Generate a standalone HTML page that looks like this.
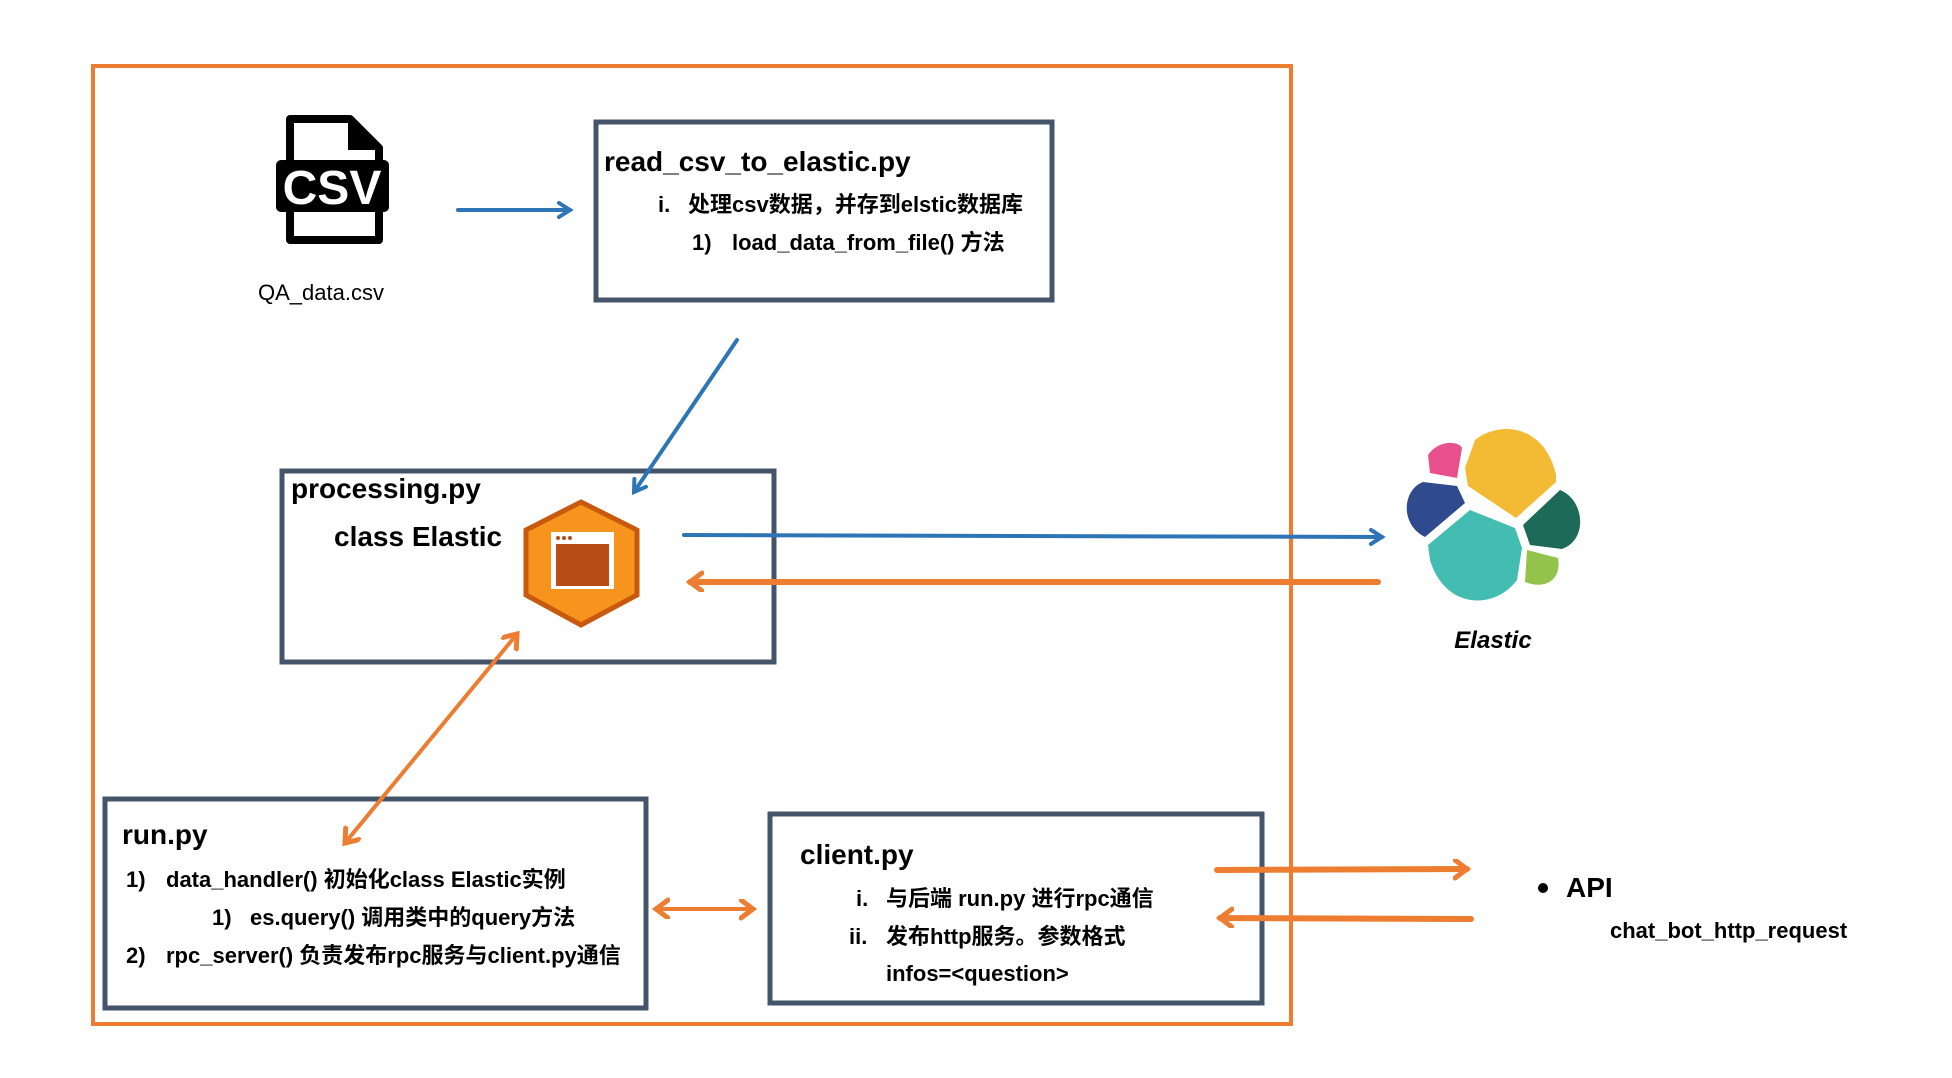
<!DOCTYPE html>
<html><head><meta charset="utf-8"><style>
html,body{margin:0;padding:0;background:#fff;}
svg{display:block;}
text{font-family:"Liberation Sans","Noto Sans CJK SC",sans-serif;font-weight:bold;fill:#000;}
</style></head><body>
<svg width="1952" height="1078" viewBox="0 0 1952 1078" xmlns="http://www.w3.org/2000/svg">
<defs>
<marker id="ao" markerWidth="30" markerHeight="30" refX="14" refY="10" orient="auto-start-reverse" markerUnits="userSpaceOnUse"><path d="M2,1 L14,10 L2,19" fill="none" stroke="#ed7d31" stroke-width="5" stroke-linecap="round"/></marker>
<marker id="ab2" markerWidth="30" markerHeight="30" refX="14" refY="10" orient="auto" markerUnits="userSpaceOnUse"><path d="M3,3 L14,10 L3,17" fill="none" stroke="#2e75b6" stroke-width="4" stroke-linecap="round"/></marker>
</defs>
<rect x="93" y="66" width="1198" height="958" fill="none" stroke="#ed7d31" stroke-width="4"/>
<g fill="none" stroke="#44546a" stroke-width="5">
<rect x="596" y="122" width="456" height="178"/>
<rect x="282" y="471" width="492" height="191"/>
<rect x="105" y="799" width="541" height="209"/>
<rect x="770" y="814" width="492" height="189"/>
</g>
<path d="M290,119 L350,119 L379,148 L379,240 L290,240 Z" fill="none" stroke="#000" stroke-width="8" stroke-linejoin="round"/>
<path d="M348,119 L348,150 L379,150 Z" fill="#000"/>
<rect x="276" y="160" width="113" height="52" rx="5" fill="#000"/>
<text x="332" y="204" text-anchor="middle" font-size="48" style="fill:#fff">CSV</text>
<text x="321" y="300" text-anchor="middle" font-size="22" style="font-weight:normal">QA_data.csv</text>
<polygon points="581,502 637,530 637,595 581,625 526,595 526,530" fill="#f7941d" stroke="#c9590e" stroke-width="5"/>
<rect x="551" y="532" width="63" height="57" fill="#fff"/>
<rect x="556" y="544" width="53" height="42" fill="#b84c17"/>
<circle cx="558" cy="538" r="2" fill="#b84c17"/><circle cx="564" cy="538" r="2" fill="#b84c17"/><circle cx="570" cy="538" r="2" fill="#b84c17"/>
<g transform="translate(1380,400)">
<path d="M95,40 C120,20 165,25 176,75 L176,82 L136,118 L88,86 L85,68 Z" fill="#f3bb33"/>
<path d="M48,55 C60,38 80,42 82,48 L77,78 L50,73 Z" fill="#e8508e"/>
<path d="M43,82 L77,86 L85,103 L45,137 C20,125 22,90 43,82 Z" fill="#304a8e"/>
<path d="M90,110 L135,128 L142,148 L137,180 C115,210 65,210 50,160 L48,145 Z" fill="#43bdb2"/>
<path d="M143,125 L180,90 C205,100 208,140 182,149 L150,145 Z" fill="#1c6a57"/>
<path d="M147,150 L178,158 C182,180 165,190 145,182 Z" fill="#94c34b"/>
</g>
<text x="1493" y="648" text-anchor="middle" font-size="24" font-style="italic">Elastic</text>
<g stroke-width="4" fill="none" stroke-linecap="round">
<line x1="458" y1="210" x2="570" y2="210" stroke="#2e75b6" marker-end="url(#ab2)"/>
<line x1="737" y1="340" x2="634" y2="492" stroke="#2e75b6" marker-end="url(#ab2)"/>
<line x1="684" y1="535" x2="1382" y2="537" stroke="#2e75b6" marker-end="url(#ab2)"/>
<line x1="1378" y1="582" x2="690" y2="582" stroke="#ed7d31" stroke-width="6" marker-end="url(#ao)"/>
<line x1="517" y1="634" x2="345" y2="843" stroke="#ed7d31" marker-start="url(#ao)" marker-end="url(#ao)"/>
<line x1="656" y1="909" x2="753" y2="909" stroke="#ed7d31" marker-start="url(#ao)" marker-end="url(#ao)"/>
<line x1="1217" y1="870" x2="1467" y2="869" stroke="#ed7d31" stroke-width="6" marker-end="url(#ao)"/>
<line x1="1471" y1="919" x2="1220" y2="918" stroke="#ed7d31" stroke-width="6" marker-end="url(#ao)"/>
</g>
<text x="604" y="171" font-size="28">read_csv_to_elastic.py</text>
<text x="658" y="212" font-size="22">i.</text>
<text x="688" y="212" font-size="22">处理csv数据，并存到elstic数据库</text>
<text x="692" y="250" font-size="22">1)</text>
<text x="732" y="250" font-size="22">load_data_from_file() 方法</text>
<text x="291" y="498" font-size="28">processing.py</text>
<text x="334" y="546" font-size="28">class Elastic</text>
<text x="122" y="844" font-size="28">run.py</text>
<text x="126" y="887" font-size="22">1)</text>
<text x="166" y="887" font-size="22">data_handler()  初始化class Elastic实例</text>
<text x="212" y="925" font-size="22">1)</text>
<text x="250" y="925" font-size="22">es.query() 调用类中的query方法</text>
<text x="126" y="963" font-size="22">2)</text>
<text x="166" y="963" font-size="22">rpc_server() 负责发布rpc服务与client.py通信</text>
<text x="800" y="864" font-size="28">client.py</text>
<text x="856" y="906" font-size="22">i.</text>
<text x="886" y="906" font-size="22">与后端 run.py 进行rpc通信</text>
<text x="849" y="944" font-size="22">ii.</text>
<text x="886" y="944" font-size="22">发布http服务。参数格式</text>
<text x="886" y="981" font-size="22">infos=&lt;question&gt;</text>
<circle cx="1543" cy="888" r="5" fill="#000"/>
<text x="1566" y="897" font-size="28">API</text>
<text x="1610" y="938" font-size="22">chat_bot_http_request</text>
</svg>
</body></html>
